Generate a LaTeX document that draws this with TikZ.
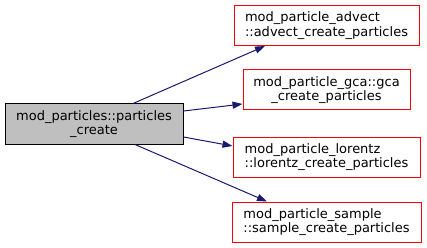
\documentclass[tikz,border=0pt]{standalone}
\usepackage{fontspec}
\setmainfont{DejaVu Sans}
\usetikzlibrary{arrows.meta}
\definecolor{midblue}{HTML}{191970}
\definecolor{boxgray}{HTML}{BFBFBF}
\begin{document}
\begin{tikzpicture}[
  x=1pt, y=-1pt,
  font=\fontsize{13}{14.5}\selectfont,
  current/.style={rectangle, draw=black, fill=boxgray, line width=1pt, minimum width=178pt, minimum height=40pt, align=center},
  callee/.style={rectangle, draw=red, line width=1pt, minimum height=40pt, align=left},
  call/.style={draw=midblue, line width=1pt, -{Triangle[length=10pt, width=7pt]}}
]
  \useasboundingbox (0,0) rectangle (427,248);
  \node[current] (src) at (94, 124) {mod\_particles::particles\\\_create};
  \node[callee, minimum width=185pt] (advect)  at (326.5, 25.5) {mod\_particle\_advect\\::advect\_create\_particles};
  \node[callee, minimum width=167pt, align=center] (gca) at (326.5, 90) {mod\_particle\_gca::gca\\\_create\_particles};
  \node[callee, minimum width=187pt] (lorentz) at (326.5, 157) {mod\_particle\_lorentz\\::lorentz\_create\_particles};
  \node[callee, minimum width=189pt] (sample)  at (326.5, 222) {mod\_particle\_sample\\::sample\_create\_particles};

  \draw[call] ([xshift=39pt]src.north)  -- ([xshift=-61.5pt]advect.south);
  \draw[call] ([yshift=13pt]src.east)   -- ([yshift=-14pt]gca.west);
  \draw[call] ([yshift=-13pt]src.east)  -- ([yshift=11pt]lorentz.west);
  \draw[call] ([xshift=41pt]src.south)  -- ([xshift=-59.5pt]sample.north);
\end{tikzpicture}
\end{document}
